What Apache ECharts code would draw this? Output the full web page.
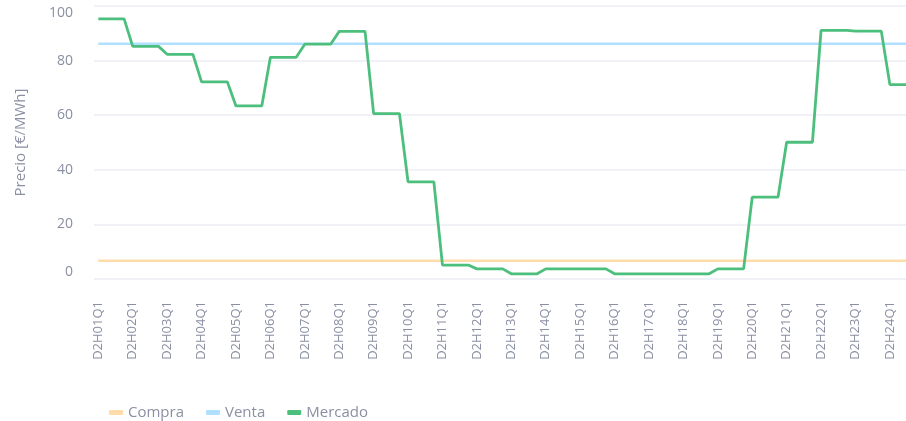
<!DOCTYPE html>
<html>
<head>
<meta charset="utf-8">
<script src="https://cdn.jsdelivr.net/npm/echarts@6/dist/echarts.min.js"></script>
<style>
  html, body { margin: 0; padding: 0; background: #fff; overflow: hidden; }
  #chart { width: 920px; height: 421px; }
</style>
</head>
<body>
<div id="chart"></div>
<script>
// Hourly market price (€/MWh), one value per hour H01..H24
const hourlyMercado = [95.3, 85.2, 82.3, 72.2, 63.4, 81.2, 86.0, 90.7, 60.6, 35.6, 5.1, 3.7,
                       1.9, 3.7, 3.7, 1.9, 1.9, 1.9, 3.7, 30.0, 50.1, 91.1, 90.8, 71.2];
// Flat reference prices
const compraPrice = 6.7;
const ventaPrice = 86.2;
const quartersPerHour = 4;

// Quarter-hour categories D2H01Q1 ... D2H24Q4
const categories = [];
const mercado = [];
for (let h = 1; h <= 24; h++) {
  for (let q = 1; q <= quartersPerHour; q++) {
    categories.push('D2H' + String(h).padStart(2, '0') + 'Q' + q);
    mercado.push(hourlyMercado[h - 1]);
  }
}
const compra = categories.map(() => compraPrice);
const venta = categories.map(() => ventaPrice);

const textColor = '#8b8fa3';
const fontFamily = '"Open Sans", sans-serif';

const chart = echarts.init(document.getElementById('chart'), null, { renderer: 'canvas' });
chart.setOption({
  animation: false,
  textStyle: { fontFamily: fontFamily },
  grid: { left: 94, right: 0, top: 6, bottom: 142 },
  legend: {
    left: 104, top: 400,
    icon: 'roundRect', itemWidth: 14, itemHeight: 5, itemGap: 22,
    textStyle: { color: textColor, fontSize: 15, fontFamily: fontFamily },
    data: ['Compra', 'Venta', 'Mercado']
  },
  xAxis: {
    type: 'category',
    data: categories,
    boundaryGap: true,
    axisLine: { show: false },
    axisTick: { show: false },
    axisLabel: {
      interval: 3, rotate: 90, margin: 22,
      color: textColor, fontSize: 13, fontFamily: fontFamily
    },
    splitLine: { show: false }
  },
  yAxis: {
    type: 'value',
    min: 0, max: 100, interval: 20,
    name: 'Precio [€/MWh]',
    nameLocation: 'middle',
    nameGap: 66,
    nameTextStyle: { color: textColor, fontSize: 15, fontFamily: fontFamily },
    axisLine: { show: false },
    axisTick: { show: false },
    axisLabel: {
      margin: 21, color: textColor, fontSize: 14, fontFamily: fontFamily,
      verticalAlignMinLabel: 'bottom', verticalAlignMaxLabel: 'top'
    },
    splitLine: { lineStyle: { color: '#eceef4', width: 1.5 } }
  },
  series: [
    { name: 'Compra', type: 'line', data: compra, showSymbol: false, symbol: 'none',
      itemStyle: { color: '#ffdcaa' }, lineStyle: { color: '#ffdcaa', width: 2.5 } },
    { name: 'Venta', type: 'line', data: venta, showSymbol: false, symbol: 'none',
      itemStyle: { color: '#b0e0ff' }, lineStyle: { color: '#b0e0ff', width: 2.5 } },
    { name: 'Mercado', type: 'line', data: mercado, showSymbol: false, symbol: 'none',
      itemStyle: { color: '#4dbf7d' }, lineStyle: { color: '#4dbf7d', width: 2.8 } }
  ]
});
</script>
</body>
</html>
